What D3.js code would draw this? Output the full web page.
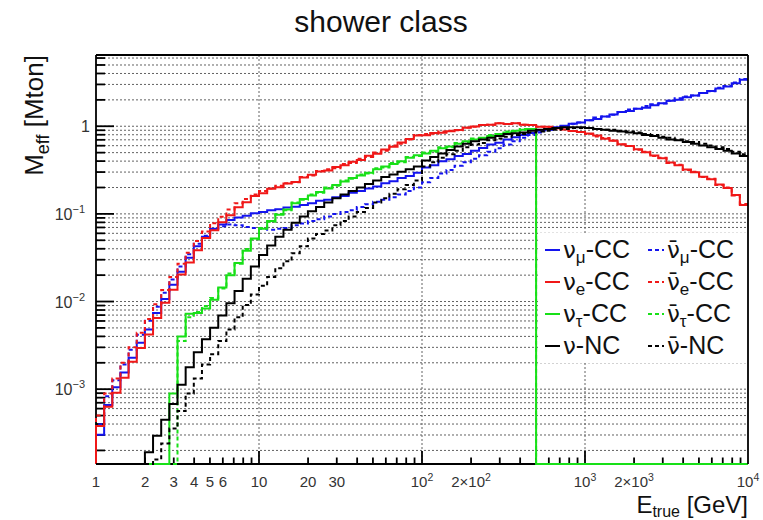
<!DOCTYPE html>
<html>
<head>
<meta charset="utf-8">
<script src="https://cdn.jsdelivr.net/npm/d3@7"></script>
<style>
  body { margin: 0; background: #fff; }
  svg { display: block; font-family: "Liberation Sans", Arial, Helvetica, sans-serif; }
</style>
</head>
<body>
<svg id="chart" width="763" height="520"></svg>
<script>
// Effective mass (Mton) per true-energy bin, 20 log bins per decade from 1 GeV to 10 TeV
const binsPerDecade = 20;
const energyRange = [1, 1e4];

const numuCC = [3.02e-4, 6.61e-4, 1.05e-3, 1.55e-3, 2.29e-3, 3.39e-3, 4.79e-3, 7.41e-3, 0.0107, 0.0155,
  0.0219, 0.0316, 0.0427, 0.0550, 0.0676, 0.0759, 0.0851, 0.0912, 0.0955, 0.102,
  0.105, 0.110, 0.113, 0.118, 0.121, 0.126, 0.132, 0.141, 0.145, 0.155,
  0.160, 0.174, 0.183, 0.195, 0.206, 0.224, 0.236, 0.257, 0.270, 0.295,
  0.339, 0.358, 0.398, 0.420, 0.457, 0.482, 0.525, 0.566, 0.617, 0.650,
  0.708, 0.747, 0.794, 0.838, 0.891, 0.920, 0.977, 1.01, 1.07, 1.10,
  1.17, 1.21, 1.29, 1.36, 1.45, 1.49, 1.58, 1.63, 1.74, 1.83,
  1.95, 2.01, 2.14, 2.25, 2.40, 2.53, 2.69, 2.84, 3.09, 3.39];
const numubarCC = [3.98e-4, 8.32e-4, 1.26e-3, 1.91e-3, 2.82e-3, 4.17e-3, 6.03e-3, 8.71e-3, 0.0126, 0.0178,
  0.0251, 0.0347, 0.0457, 0.0562, 0.0661, 0.0724, 0.0759, 0.0741, 0.0708, 0.0692,
  0.0676, 0.0661, 0.0676, 0.0692, 0.0741, 0.0776, 0.0832, 0.0871, 0.0933, 0.100,
  0.105, 0.110, 0.120, 0.129, 0.138, 0.145, 0.155, 0.166, 0.182, 0.200,
  0.229, 0.257, 0.288, 0.316, 0.355, 0.389, 0.427, 0.468, 0.513, 0.562,
  0.617, 0.676, 0.741, 0.794, 0.851, 0.912, 0.955, 1.00, 1.07, 1.10,
  1.17, 1.26, 1.29, 1.35, 1.45, 1.55, 1.58, 1.70, 1.78, 1.82,
  1.95, 2.09, 2.19, 2.24, 2.40, 2.51, 2.75, 2.88, 3.16, 3.47];
const nueCC = [3.8e-4, 6.3e-4, 9.1e-4, 1.35e-3, 2.05e-3, 2.95e-3, 4.2e-3, 6.5e-3, 9.7e-3, 0.0136,
  0.0203, 0.0278, 0.0384, 0.0531, 0.0652, 0.0805, 0.0962, 0.119, 0.136, 0.160,
  0.172, 0.193, 0.201, 0.222, 0.231, 0.260, 0.279, 0.305, 0.313, 0.342,
  0.360, 0.393, 0.412, 0.462, 0.485, 0.542, 0.583, 0.652, 0.716, 0.783,
  0.788, 0.839, 0.845, 0.879, 0.905, 0.962, 0.993, 1.03, 1.04, 1.08,
  1.06, 1.08, 1.04, 1.03, 0.99, 0.985, 0.946, 0.920, 0.883, 0.858,
  0.825, 0.783, 0.718, 0.682, 0.625, 0.594, 0.545, 0.506, 0.463, 0.431,
  0.385, 0.359, 0.320, 0.298, 0.266, 0.248, 0.216, 0.197, 0.164, 0.126];
const nuebarCC = [5.0e-4, 8.9e-4, 1.32e-3, 2.0e-3, 3.0e-3, 4.4e-3, 6.3e-3, 9.3e-3, 0.0135, 0.019,
  0.027, 0.036, 0.049, 0.063, 0.078, 0.093, 0.112, 0.132, 0.148, 0.166,
  0.182, 0.195, 0.209, 0.224, 0.229, 0.263, 0.275, 0.309, 0.324, 0.331,
  0.372, 0.380, 0.427, 0.447, 0.501, 0.525, 0.603, 0.631, 0.708, 0.794,
  0.813, 0.822, 0.871, 0.891, 0.902, 0.966, 0.988, 1.03, 1.04, 1.08,
  1.06, 1.08, 1.04, 1.03, 0.99, 0.966, 0.944, 0.922, 0.881, 0.862,
  0.813, 0.766, 0.735, 0.687, 0.617, 0.597, 0.540, 0.511, 0.457, 0.437,
  0.380, 0.363, 0.316, 0.302, 0.263, 0.251, 0.214, 0.200, 0.162, 0.130];
const nutauCC = [0, 0, 0, 0, 0, 0, 0, 0, 0, 8.9e-4,
  3.98e-3, 7.24e-3, 7.41e-3, 8.32e-3, 0.0105, 0.0145, 0.0200, 0.0275, 0.0380, 0.0525,
  0.0676, 0.0832, 0.0977, 0.112, 0.132, 0.148, 0.162, 0.178, 0.195, 0.214,
  0.234, 0.257, 0.275, 0.295, 0.324, 0.347, 0.372, 0.398, 0.437, 0.468,
  0.490, 0.525, 0.562, 0.589, 0.631, 0.676, 0.708, 0.741, 0.776, 0.813,
  0.851, 0.891, 0.912, 0.933, 0, 0, 0, 0, 0, 0,
  0, 0, 0, 0, 0, 0, 0, 0, 0, 0,
  0, 0, 0, 0, 0, 0, 0, 0, 0, 0];
const nutaubarCC = [0, 0, 0, 0, 0, 0, 0, 0, 0, 0,
  3.55e-3, 6.61e-3, 7.59e-3, 8.91e-3, 0.0110, 0.0141, 0.0209, 0.0269, 0.0398, 0.0513,
  0.0692, 0.0813, 0.0998, 0.110, 0.135, 0.145, 0.166, 0.174, 0.200, 0.209,
  0.240, 0.251, 0.282, 0.288, 0.331, 0.339, 0.380, 0.389, 0.447, 0.457,
  0.501, 0.513, 0.575, 0.575, 0.646, 0.661, 0.724, 0.724, 0.794, 0.794,
  0.871, 0.871, 0.933, 0.912, 0, 0, 0, 0, 0, 0,
  0, 0, 0, 0, 0, 0, 0, 0, 0, 0,
  0, 0, 0, 0, 0, 0, 0, 0, 0, 0];
const nuNC = [0, 0, 0, 0, 0, 0, 1.91e-4, 2.95e-4, 4.47e-4, 6.76e-4,
  1.12e-3, 1.78e-3, 2.63e-3, 3.72e-3, 5.01e-3, 6.92e-3, 9.55e-3, 0.0132, 0.0182, 0.0251,
  0.0339, 0.0437, 0.0550, 0.0661, 0.0794, 0.0933, 0.107, 0.120, 0.135, 0.151,
  0.166, 0.182, 0.200, 0.219, 0.240, 0.263, 0.282, 0.302, 0.324, 0.347,
  0.407, 0.447, 0.490, 0.537, 0.589, 0.631, 0.676, 0.708, 0.741, 0.776,
  0.813, 0.832, 0.851, 0.891, 0.912, 0.933, 0.955, 0.977, 0.977, 0.977,
  0.955, 0.933, 0.912, 0.891, 0.871, 0.851, 0.832, 0.794, 0.776, 0.741,
  0.708, 0.692, 0.661, 0.631, 0.603, 0.575, 0.550, 0.525, 0.490, 0.457];
const nubarNC = [0, 0, 0, 0, 0, 0, 0, 1.58e-4, 2.40e-4, 3.55e-4,
  5.62e-4, 8.91e-4, 1.32e-3, 1.91e-3, 2.51e-3, 3.55e-3, 4.79e-3, 6.61e-3, 9.12e-3, 0.0120,
  0.0151, 0.0191, 0.0240, 0.0288, 0.0355, 0.0427, 0.0525, 0.0589, 0.0646, 0.0741,
  0.0832, 0.0933, 0.105, 0.117, 0.135, 0.151, 0.170, 0.191, 0.214, 0.240,
  0.347, 0.389, 0.437, 0.479, 0.525, 0.575, 0.617, 0.646, 0.692, 0.724,
  0.759, 0.794, 0.813, 0.851, 0.871, 0.891, 0.912, 0.933, 0.955, 0.955,
  0.955, 0.933, 0.912, 0.912, 0.891, 0.871, 0.851, 0.813, 0.794, 0.759,
  0.741, 0.708, 0.676, 0.661, 0.631, 0.603, 0.575, 0.550, 0.513, 0.479];

// Legend entries: [neutrino symbol, subscript, interaction]
const legendSolid = [["ν", "μ", "-CC"], ["ν", "e", "-CC"], ["ν", "τ", "-CC"], ["ν", "", "-NC"]];
const legendDashed = [["ν\u0304", "μ", "-CC"], ["ν\u0304", "e", "-CC"], ["ν\u0304", "τ", "-CC"], ["ν\u0304", "", "-NC"]];

// Tick labels ("^" marks an exponent)
const xLabelValues = [1, 2, 3, 4, 5, 6, 10, 20, 30, 100, 200, 1000, 2000, 10000];
const xLabelTexts = ["1", "2", "3", "4", "5", "6", "10", "20", "30", "10^2", "2×10^2", "10^3", "2×10^3", "10^4"];
const yLabelValues = [1e-3, 1e-2, 1e-1, 1];
const yLabelTexts = ["10^−3", "10^−2", "10^−1", "1"];
const xGridValues = [10, 100, 1000];

const svg = d3.select("#chart");
const L = 96, R = 748, T = 55, B = 464;
const x = d3.scaleLog().domain(energyRange).range([L, R]);
const y = d3.scaleLog().domain([1.4e-4, 6.5]).range([B, T]);

const nBins = Math.round(Math.log10(energyRange[1] / energyRange[0]) * binsPerDecade);
const edges = d3.range(nBins + 1).map(i => energyRange[0] * Math.pow(10, i / binsPerDecade));

const series = [
  { values: numuCC, color: "#1414ee", dash: null },
  { values: numubarCC, color: "#1414ee", dash: "4,3" },
  { values: nueCC, color: "#f01818", dash: null },
  { values: nuebarCC, color: "#f01818", dash: "4,3" },
  { values: nutauCC, color: "#18e018", dash: null },
  { values: nutaubarCC, color: "#18e018", dash: "4,3" },
  { values: nuNC, color: "#000000", dash: null },
  { values: nubarNC, color: "#000000", dash: "4,3" }
];

// Grid: dotted lines at every y tick, vertical ones at the decades
const gridColor = "#626262";
const yTicks = y.ticks().filter(v => y(v) > T + 0.5 && y(v) < B - 0.5);
svg.append("g").selectAll("line").data(yTicks).join("line")
  .attr("x1", L).attr("x2", R).attr("y1", d => y(d)).attr("y2", d => y(d))
  .attr("stroke", gridColor).attr("stroke-width", 1).attr("stroke-dasharray", "2,2");
svg.append("g").selectAll("line").data(xGridValues).join("line")
  .attr("x1", d => x(d)).attr("x2", d => x(d)).attr("y1", T).attr("y2", B)
  .attr("stroke", gridColor).attr("stroke-width", 1).attr("stroke-dasharray", "2,2");

// Axes: left and bottom lines with inward ticks
const axisG = svg.append("g").attr("stroke", "#000").attr("stroke-width", 1.8);
axisG.append("line").attr("x1", L).attr("x2", L).attr("y1", T).attr("y2", B);
axisG.append("line").attr("x1", L).attr("x2", R).attr("y1", B).attr("y2", B);
const isDecade = v => Math.abs(Math.log10(v) - Math.round(Math.log10(v))) < 1e-9;
axisG.selectAll(".yt").data(yTicks).join("line")
  .attr("x1", L).attr("x2", d => L + (isDecade(d) ? 18 : 9))
  .attr("y1", d => y(d)).attr("y2", d => y(d));
const xTicks = x.ticks().filter(v => x(v) > L + 0.5 && x(v) < R - 0.5);
axisG.selectAll(".xt").data(xTicks).join("line")
  .attr("x1", d => x(d)).attr("x2", d => x(d))
  .attr("y1", B).attr("y2", d => B - (isDecade(d) ? 13 : 6.5));

// Histogram outlines
svg.append("defs").append("clipPath").attr("id", "plotClip")
  .append("rect").attr("x", L - 2).attr("y", T).attr("width", R - L + 2).attr("height", B - T + 2);
const line = d3.line();
const yBin = v => (v > 0 ? Math.min(y(Math.max(v, y.domain()[0])), B) : B);
const histG = svg.append("g").attr("clip-path", "url(#plotClip)");
series.forEach(s => {
  const pts = [[x(edges[0]), B]];
  s.values.forEach((v, i) => {
    pts.push([x(edges[i]), yBin(v)]);
    pts.push([x(edges[i + 1]), yBin(v)]);
  });
  histG.append("path").attr("d", line(pts)).attr("fill", "none")
    .attr("stroke", s.color).attr("stroke-width", 2)
    .attr("stroke-dasharray", s.dash);
});

// Top and right frame
const frameG = svg.append("g").attr("stroke", "#000").attr("stroke-width", 1.8);
frameG.append("line").attr("x1", L).attr("x2", R).attr("y1", T).attr("y2", T);
frameG.append("line").attr("x1", R).attr("x2", R).attr("y1", T).attr("y2", B);

// Label with optional exponent
function writeLabel(textSel, str, supSize, supDy) {
  const parts = str.split("^");
  textSel.append("tspan").text(parts[0]);
  if (parts.length > 1) textSel.append("tspan").attr("dy", supDy).attr("font-size", supSize).text(parts[1]);
}

xLabelValues.forEach((v, i) => {
  const t = svg.append("text").attr("x", x(v)).attr("y", 487)
    .attr("text-anchor", "middle").attr("font-size", 15).attr("fill", "#333");
  writeLabel(t, xLabelTexts[i], 10.5, -6.5);
});
yLabelValues.forEach((v, i) => {
  const exp = yLabelTexts[i].includes("^");
  const t = svg.append("text").attr("x", exp ? 85 : 90).attr("y", y(v) + 6)
    .attr("text-anchor", "end").attr("font-size", 16).attr("fill", "#333");
  writeLabel(t, yLabelTexts[i], 11, -7);
});

// Titles
svg.append("text").attr("x", 381).attr("y", 32).attr("text-anchor", "middle")
  .attr("font-size", 30).attr("fill", "#111").text("shower class");

const xt = svg.append("text").attr("x", R).attr("y", 513).attr("text-anchor", "end")
  .attr("font-size", 24).attr("fill", "#111");
xt.append("tspan").text("E");
xt.append("tspan").attr("dy", 4).attr("font-size", 16).text("true");
xt.append("tspan").attr("dy", -4).text(" [GeV]");

const yt = svg.append("text").attr("transform", "translate(43," + T + ") rotate(-90)")
  .attr("text-anchor", "end").attr("font-size", 26).attr("fill", "#111");
yt.append("tspan").text("M");
yt.append("tspan").attr("dy", 6).attr("font-size", 18).text("eff");
yt.append("tspan").attr("dy", -6).text(" [Mton]");

// Legend
const legG = svg.append("g");
legG.append("rect").attr("x", 540).attr("y", 233).attr("width", R - 541).attr("height", 130).attr("fill", "#fff");
const rowY = d3.range(4).map(i => 250 + i * 32);
function legendText(xPos, yPos, entry) {
  const t = legG.append("text").attr("x", xPos).attr("y", yPos + 8)
    .attr("font-size", 25).attr("fill", "#111");
  // DejaVu Sans places the combining bar over the nu
  t.append("tspan").attr("font-family", "DejaVu Sans").attr("font-size", 23).text(entry[0]);
  if (entry[1]) {
    t.append("tspan").attr("dy", 5).attr("font-size", 17).text(entry[1]);
    t.append("tspan").attr("dy", -5).text(entry[2]);
  } else {
    t.append("tspan").text(entry[2]);
  }
}
const legColors = [series[0].color, series[2].color, series[4].color, series[6].color];
rowY.forEach((ry, i) => {
  legG.append("line").attr("x1", 545).attr("x2", 560).attr("y1", ry).attr("y2", ry)
    .attr("stroke", legColors[i]).attr("stroke-width", 2);
  legendText(563, ry, legendSolid[i]);
  legG.append("line").attr("x1", 648).attr("x2", 664).attr("y1", ry).attr("y2", ry)
    .attr("stroke", legColors[i]).attr("stroke-width", 2).attr("stroke-dasharray", "4,3");
  legendText(667, ry, legendDashed[i]);
});
</script>
</body>
</html>
